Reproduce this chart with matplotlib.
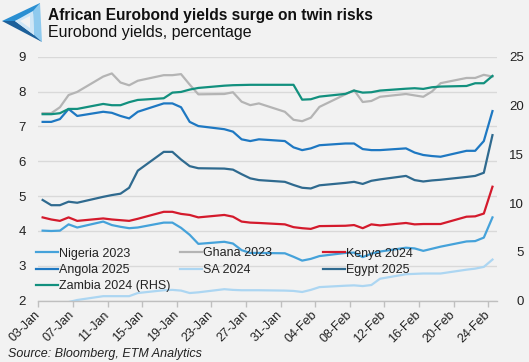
import matplotlib
matplotlib.use('Agg')
import matplotlib.pyplot as plt
import matplotlib.dates as mdates
from matplotlib.patches import Polygon
import pandas as pd

# ---------------- data ----------------
dates = pd.bdate_range('2022-01-03', '2022-02-24')
tick_labels = ['03-Jan', '07-Jan', '11-Jan', '15-Jan', '19-Jan', '23-Jan', '27-Jan',
               '31-Jan', '04-Feb', '08-Feb', '12-Feb', '16-Feb', '20-Feb', '24-Feb']
left_ticks = [2, 3, 4, 5, 6, 7, 8, 9]
right_ticks = [0, 5, 10, 15, 20, 25]

nigeria_2023 = [4.01, 4.00, 4.01, 4.19, 4.10,
                4.27, 4.17, 4.12, 4.08, 4.10,
                4.24, 4.24, 4.09, 3.89, 3.63,
                3.69, 3.64, 3.45, 3.37, 3.37,
                3.36, 3.26, 3.15, 3.20, 3.28,
                3.37, 3.38, 3.25, 3.35, 3.41,
                3.52, 3.50, 3.43, 3.49, 3.55,
                3.70, 3.71, 3.81, 4.39]
ghana_2023 = [7.38, 7.38, 7.55, 7.90, 7.99,
              8.43, 8.52, 8.26, 8.18, 8.31,
              8.47, 8.47, 8.50, 8.20, 7.92,
              7.93, 7.98, 7.71, 7.61, 7.66,
              7.42, 7.19, 7.15, 7.25, 7.56,
              7.92, 8.04, 7.70, 7.73, 7.85,
              7.93, 7.89, 7.85, 8.00, 8.24,
              8.39, 8.39, 8.48, 8.43]
kenya_2024 = [4.39, 4.33, 4.29, 4.39, 4.29,
              4.36, 4.33, 4.31, 4.29, 4.35,
              4.55, 4.55, 4.49, 4.46, 4.39,
              4.46, 4.41, 4.27, 4.24, 4.23,
              4.19, 4.11, 4.08, 4.06, 4.14,
              4.15, 4.17, 4.08, 4.19, 4.16,
              4.23, 4.19, 4.20, 4.20, 4.20,
              4.41, 4.42, 4.50, 5.27]
angola_2025 = [7.13, 7.13, 7.21, 7.50, 7.30,
               7.42, 7.39, 7.30, 7.23, 7.42,
               7.66, 7.66, 7.55, 7.13, 7.01,
               6.92, 6.85, 6.63, 6.58, 6.63,
               6.58, 6.40, 6.32, 6.37, 6.46,
               6.51, 6.51, 6.35, 6.32, 6.32,
               6.37, 6.25, 6.18, 6.15, 6.13,
               6.30, 6.30, 6.58, 7.44]
sa_2024 = [1.93, 1.93, 1.94, 1.96, 2.02,
           2.13, 2.13, 2.13, 2.13, 2.22,
           2.30, 2.31, 2.29, 2.22, 2.24,
           2.33, 2.31, 2.30, 2.30, 2.30,
           2.29, 2.28, 2.25, 2.31, 2.39,
           2.43, 2.44, 2.42, 2.45, 2.63,
           2.76, 2.77, 2.78, 2.78, 2.78,
           2.89, 2.92, 2.97, 3.18]
egypt_2025 = [4.89, 4.74, 4.74, 4.84, 4.81,
              4.98, 5.03, 5.07, 5.24, 5.73,
              6.27, 6.27, 6.05, 5.86, 5.80,
              5.79, 5.76, 5.63, 5.51, 5.46,
              5.41, 5.32, 5.24, 5.22, 5.31,
              5.38, 5.41, 5.35, 5.44, 5.48,
              5.58, 5.46, 5.42, 5.45, 5.47,
              5.55, 5.58, 5.67, 6.75]
zambia_2024 = [19.11, 19.11, 19.21, 19.65, 19.65,
               20.16, 20.03, 20.03, 20.34, 20.57,
               20.74, 21.32, 21.39, 21.63, 21.80,
               22.03, 22.08, 22.10, 22.12, 22.12,
               22.12, 22.12, 20.60, 20.64, 20.91,
               21.19, 21.53, 21.32, 21.36, 21.53,
               21.72, 21.77, 21.70, 21.87, 21.94,
               22.00, 22.28, 22.28, 23.03]

# ---------------- style ----------------
BG = '#f2f2f2'
C_NIG = '#45a2da'
C_GHA = '#b4b4b4'
C_KEN = '#d41a2c'
C_ANG = '#1e78c2'
C_SA = '#acd6f2'
C_EGY = '#2f6a8f'
C_ZAM = '#12907e'
TXT = '#222222'

plt.rcParams['font.family'] = ['Liberation Sans', 'DejaVu Sans']

W, H = 529, 362
fig = plt.figure(figsize=(W / 100, H / 100), dpi=100, facecolor=BG)


def fx(px):
    return px / W


def fy(py):
    return 1 - py / H


ax = fig.add_axes([fx(38.3), fy(300.7), fx(496.8) - fx(38.3), fy(56.7) - fy(300.7)])
ax.set_facecolor(BG)
ax2 = ax.twinx()
ax2.patch.set_visible(False)

x = mdates.date2num(dates) + 0.5
lw = 1.6
l_nig, = ax.plot(x, nigeria_2023, color=C_NIG, lw=lw, label='Nigeria 2023')
l_gha, = ax.plot(x, ghana_2023, color=C_GHA, lw=lw, label='Ghana 2023')
l_ken, = ax.plot(x, kenya_2024, color=C_KEN, lw=lw, label='Kenya 2024')
l_ang, = ax.plot(x, angola_2025, color=C_ANG, lw=lw, label='Angola 2025')
l_sa, = ax.plot(x, sa_2024, color=C_SA, lw=lw, label='SA 2024')
l_egy, = ax.plot(x, egypt_2025, color=C_EGY, lw=lw, label='Egypt 2025')
l_zam, = ax2.plot(x, zambia_2024, color=C_ZAM, lw=lw, label='Zambia 2024 (RHS)')

tick_pos = mdates.date2num(pd.to_datetime([t + '-2022' for t in tick_labels], format='%d-%b-%Y'))
ax.set_xlim(mdates.date2num(dates[0]), mdates.date2num(dates[-1]) + 1)
ax.set_xticks(tick_pos)
ax.set_xticklabels(tick_labels, rotation=45, ha='right', va='center', rotation_mode='anchor')
ax.tick_params(axis='x', direction='out', length=4, width=1, color='#bfbfbf',
               labelsize=9, labelcolor=TXT, pad=5)

ax.set_ylim(2, 9)
ax.set_yticks(left_ticks)
ax.tick_params(axis='y', length=0, labelsize=9.5, labelcolor=TXT, pad=9)
ax.yaxis.grid(True, color='#d9d9d9', lw=1)
ax.set_axisbelow(True)

ax2.set_ylim(0, 25)
ax2.set_yticks(right_ticks)
ax2.tick_params(axis='y', length=0, labelsize=9.5, labelcolor=TXT, pad=19.5)
for lab in ax2.get_yticklabels():
    lab.set_horizontalalignment('right')

for a in (ax, ax2):
    for s in a.spines.values():
        s.set_visible(False)
ax.spines['bottom'].set_visible(True)
ax.spines['bottom'].set_color('#bfbfbf')
ax.spines['bottom'].set_linewidth(1)

# legend: three columns of equal width like the original
cols = [([l_nig, l_ang, l_zam], 36), ([l_gha, l_sa], 180), ([l_ken, l_egy], 323)]
for handles, xpx in cols:
    leg = fig.legend(handles=handles, loc='upper left', bbox_to_anchor=(fx(xpx), fy(247.5)),
                     frameon=False, fontsize=9, handlelength=1.75, handletextpad=0.1,
                     borderpad=0, borderaxespad=0, labelspacing=0.36, labelcolor=TXT)

# titles
fig.text(fx(48.5), fy(20), 'African Eurobond yields surge on twin risks', fontsize=11.2,
         fontweight='bold', color='#111111', va='baseline', ha='left')
fig.text(fx(48.5), fy(36.7), 'Eurobond yields, percentage', fontsize=11.5,
         color='#111111', va='baseline', ha='left')
fig.text(fx(8), fy(357.5), 'Source: Bloomberg, ETM Analytics', fontsize=9, style='italic',
         color=TXT, va='baseline', ha='left')

# logo (stylised triangle)
def poly(pts, color):
    fig.patches.append(Polygon([(fx(a), fy(b)) for a, b in pts], closed=True,
                               transform=fig.transFigure, facecolor=color, edgecolor='none'))

poly([(2, 21), (40, 3), (40, 11), (15, 21)], '#2a8fd2')
poly([(40, 3), (42, 42), (34, 37), (33, 11)], '#8fcaee')
poly([(2, 21), (15, 21), (34, 35), (42, 42)], '#1d609a')
poly([(15, 21), (33, 11), (34, 35)], '#cfe6f6')
poly([(20, 21), (30, 16), (30, 28)], BG)

fig.savefig('out.png', dpi=100, facecolor=BG)
